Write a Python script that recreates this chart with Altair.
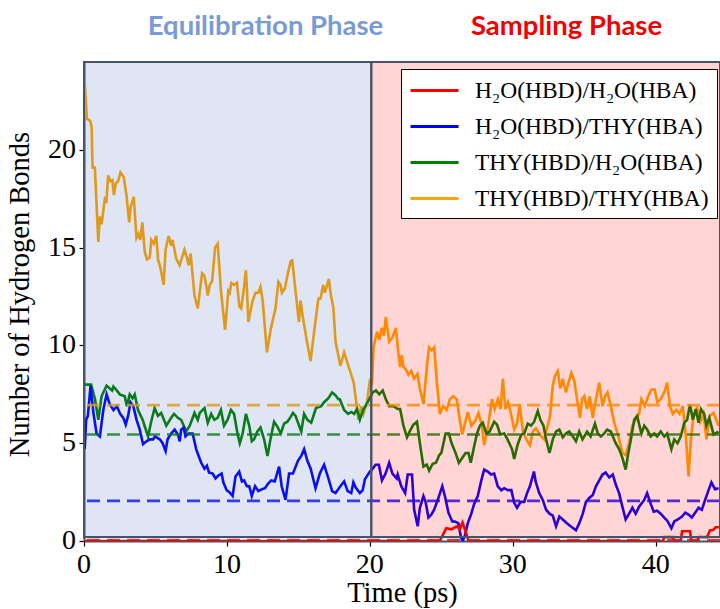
import altair as alt
import pandas as pd

series_names = ["H₂O(HBD)/H₂O(HBA)", "H₂O(HBD)/THY(HBA)", "THY(HBD)/H₂O(HBA)", "THY(HBD)/THY(HBA)"]
series_colors = ["#ff0000", "#0000ff", "#008000", "#ffa500"]
series_means = [0.05, 2.05, 5.45, 6.95]
x_ticks = [0, 10, 20, 30, 40]
y_ticks = [0, 5, 10, 15, 20]

red_t = [0, 24.9, 25.1, 25.35, 25.7, 26.1, 26.3, 26.48, 26.65, 26.9, 40.5, 40.6, 41.2, 41.3, 41.75, 41.85,
         42.4, 42.5, 42.9, 43.0, 43.6, 43.8, 44.0, 44.2, 44.5]
red_v = [0, 0, 0.3, 0.65, 0.6, 0.75, 0.6, 0.95, 0.6, 0.0, 0.0, 0.2, 0.2, 0.0, 0.0, 0.5,
         0.5, 0.0, 0.0, 0.2, 0.2, 0.55, 0.55, 0.7, 0.7]

blue_t = [0.05, 0.15, 0.27, 0.46, 0.65, 0.88, 1.11, 1.35, 1.58, 1.8, 2.06, 2.3, 2.53, 2.75, 2.92, 3.1, 3.25,
          3.45, 3.68, 3.9, 4.13, 4.37, 4.6, 4.83, 4.97, 5.3, 5.5, 5.71, 5.85, 6.1, 6.34, 6.57, 6.7, 6.8,
          6.97, 7.1, 7.3, 7.6, 7.85, 7.97, 8.2, 8.43, 8.6, 8.75, 9.0, 9.2, 9.4, 9.63, 9.75, 9.98, 10.17,
          10.4, 10.6, 10.86, 11.05, 11.2, 11.4, 11.56, 11.74, 11.97, 12.2, 12.45, 12.66, 12.9, 13.1, 13.35,
          13.65, 13.83, 14.1, 14.35, 14.62, 14.97, 15.2, 15.4, 15.63, 15.86, 16.2, 16.5, 16.8, 17.1, 17.36,
          17.6, 17.94, 18.2, 18.45, 18.7, 18.85, 19.0, 19.3, 19.5, 19.65, 20.0,
          20.15, 20.4, 20.63, 20.85, 21.1, 21.35, 21.58, 21.88, 21.95, 22.2, 22.47, 22.65, 22.95, 23.1,
          23.35, 23.5, 23.75, 23.9, 24.1, 24.3, 24.5, 24.75, 25.07, 25.25, 25.5, 25.77, 25.95, 26.2, 26.37,
          26.5, 26.66, 26.85, 27.1, 27.3, 27.55, 27.8, 28.0, 28.25, 28.48, 28.7, 28.95, 29.2, 29.4, 29.65,
          29.9, 30.1, 30.3, 30.55, 30.8, 31.0, 31.2, 31.48, 31.6, 31.85, 32.1, 32.33, 32.57, 32.8, 33.03,
          33.26, 33.5, 33.72, 34.05, 34.42, 34.65, 34.9, 35.12, 35.35, 35.6, 35.82, 36.05, 36.28, 36.5,
          36.75, 37.0, 37.2, 37.44, 37.67, 37.9, 38.14, 38.37, 38.6, 38.84, 39.2, 39.4, 39.63, 39.86, 40.1,
          40.35, 40.6, 40.8, 41.1, 41.3, 41.55, 41.84, 42.07, 42.3, 42.53, 42.76, 43.0, 43.23, 43.46, 43.7,
          43.9, 44.15, 44.4]
blue_v = [4.7, 6.2, 6.4, 7.95, 6.6, 5.5, 5.35, 6.7, 7.5, 7.0, 6.7, 6.9, 6.5, 6.3, 5.95, 6.45, 7.1,
          6.9, 6.2, 5.7, 4.95, 5.1, 5.2, 5.2, 5.35, 5.2, 5.0, 4.6, 5.2, 5.5, 5.7, 5.45, 5.1, 5.7,
          5.8, 5.35, 5.5, 5.5, 4.7, 4.45, 4.0, 3.7, 3.85, 3.5, 3.45, 3.2, 3.35, 3.45, 3.0, 2.6, 2.5,
          2.3, 3.3, 3.55, 3.05, 3.1, 2.8, 2.8, 2.3, 2.8, 2.55, 2.65, 2.7, 2.95, 3.1, 3.05,
          3.8, 2.8, 2.1, 3.45, 3.45, 4.1, 4.35, 4.7, 4.1, 3.7, 2.7, 3.45, 3.9, 3.2, 2.55,
          2.45, 2.8, 3.05, 2.55, 2.45, 3.0, 2.75, 2.45, 2.6, 3.15, 3.55,
          3.65, 3.9, 3.9, 3.1, 3.45, 4.0, 3.45, 3.2, 3.4, 2.8, 2.45, 3.4, 3.4, 1.6,
          0.75, 1.7, 2.3, 2.0, 1.2, 1.35, 1.6, 2.1, 2.8, 2.3, 1.45, 1.0, 1.0, 0.9, 0.2,
          0.0, 0.3, 0.9, 1.4, 1.9, 2.3, 3.1, 3.65, 3.55, 3.4, 3.45, 2.8, 2.6, 2.7, 2.6,
          2.6, 1.95, 1.7, 2.0, 2.0, 2.45, 2.8, 3.55, 3.05, 2.45, 2.1, 1.6, 1.4, 1.3, 0.75,
          1.25, 1.1, 0.95, 0.75, 0.55, 0.9, 1.4, 2.0, 2.2, 2.35, 2.8, 3.1, 3.4, 3.5,
          3.25, 3.4, 2.9, 2.45, 1.75, 1.1, 1.4, 1.7, 1.4, 1.75, 2.1, 2.45, 1.95, 1.5, 1.55,
          1.4, 1.2, 1.05, 0.65, 1.0, 1.1, 1.25, 1.45, 1.35, 1.2, 1.45, 1.7, 1.6, 2.1, 2.6,
          3.0, 2.65, 2.7]

green_t = [0.05, 0.5, 0.77, 1.0, 1.23, 1.58, 1.8, 1.97, 2.06, 2.3, 2.5, 2.85, 3.0, 3.2, 3.4, 3.55, 3.78,
           4.1, 4.48, 4.7, 4.94, 5.17, 5.4, 5.76, 6.1, 6.3, 6.57, 6.8, 7.15, 7.4, 7.73, 7.96, 8.1, 8.43,
           8.66, 8.9, 9.12, 9.35, 9.58, 9.8, 10.05, 10.28, 10.5, 10.75, 10.9, 11.1, 11.33, 11.56, 11.74,
           11.9, 12.13, 12.35, 12.6, 12.84, 13.07, 13.3, 13.53, 13.77, 14.0, 14.23, 14.46, 14.62, 14.8,
           15.2, 15.4, 15.63, 15.9, 16.23, 16.6, 16.8, 17.1, 17.36, 17.6, 17.8, 17.9, 18.2, 18.48, 18.7,
           18.9, 19.1, 19.3, 19.53, 19.85, 20.2,
           20.43, 20.66, 20.9, 21.12, 21.35, 21.65, 21.95, 22.12, 22.35, 22.6, 22.82, 23.05, 23.3, 23.5,
           23.75, 23.98, 24.15, 24.4, 24.63, 24.86, 25.0, 25.3, 25.53, 25.72, 26.0, 26.23, 26.46, 26.7,
           26.9, 27.06, 27.3, 27.5, 27.7, 27.9, 28.15, 28.38, 28.7, 28.9, 29.12, 29.4, 29.63, 29.95, 30.1,
           30.35, 30.6, 30.8, 31.05, 31.28, 31.5, 31.75, 31.93, 32.15, 32.33, 32.57, 32.8, 33.03, 33.26,
           33.5, 33.72, 33.95, 34.2, 34.42, 34.65, 34.88, 35.2, 35.45, 35.75, 35.95, 36.17, 36.4, 36.6,
           36.86, 37.2, 37.44, 37.67, 37.9, 38.05, 38.3, 38.5, 38.7, 39.0, 39.2, 39.4, 39.65, 39.9, 40.1,
           40.35, 40.6, 40.8, 41.1, 41.3, 41.53, 41.76, 42.0, 42.2, 42.4, 42.6, 42.8, 43.0, 43.17, 43.4,
           43.55, 43.75, 44.05, 44.4]
green_v = [8.0, 8.0, 7.25, 6.2, 7.4, 7.95, 7.8, 7.7, 7.9, 7.7, 7.5, 7.4, 6.9, 7.5, 7.3, 7.5, 6.7,
           6.2, 5.35, 6.1, 6.8, 6.4, 6.55, 5.9, 6.3, 6.5, 6.3, 6.2, 5.6, 5.9, 6.55, 6.2, 6.55, 6.8,
           6.05, 6.5, 6.2, 6.3, 6.7, 5.9, 6.2, 6.7, 6.5, 5.45, 5.0, 5.5, 6.5, 5.9, 5.1,
           5.2, 5.6, 5.8, 5.2, 4.35, 5.3, 6.1, 5.85, 5.5, 6.0, 6.1, 6.35, 6.55, 6.4,
           5.6, 6.5, 6.2, 6.05, 6.8, 6.9, 7.1, 7.3, 7.6, 7.45, 7.25, 7.25, 6.7, 6.5, 6.6,
           6.5, 6.75, 6.2, 6.7, 7.1, 7.6,
           7.7, 7.5, 7.7, 7.25, 6.9, 6.9, 6.75, 6.75, 5.9, 5.3, 5.65, 5.95, 6.1, 5.0,
           3.8, 3.9, 3.6, 3.95, 4.0, 4.4, 4.5, 5.5, 5.5, 5.0, 4.5, 4.0, 4.25, 4.5,
           4.5, 4.0, 4.85, 5.5, 5.9, 6.05, 5.5, 5.6, 6.1, 5.95, 5.45, 5.5, 5.2, 4.7, 4.2,
           4.95, 5.45, 5.5, 6.0, 5.9, 6.1, 6.65, 6.2, 5.9, 5.2, 4.5, 5.2, 5.6, 5.7,
           5.3, 5.5, 5.6, 5.35, 5.1, 5.6, 5.2, 5.6, 5.35, 6.0, 5.5, 5.35, 5.5, 5.7,
           5.6, 5.0, 4.7, 4.25, 3.65, 4.35, 5.35, 6.2, 6.4, 5.5, 5.9, 5.7, 5.35, 5.5, 5.35,
           5.6, 5.35, 5.5, 4.7, 5.2, 5.0, 5.35, 6.05, 6.2, 7.0, 6.2, 6.75, 6.05, 6.75, 6.5,
           5.9, 6.3, 5.45, 5.6]

orange_t = [0.05, 0.2, 0.42, 0.53, 0.6, 0.76, 1.0, 1.11, 1.23, 1.46, 1.57, 1.69, 1.85, 1.99, 2.09, 2.23,
            2.39, 2.55, 2.78, 2.97, 3.16, 3.27, 3.48, 3.67, 3.8, 3.94, 4.08, 4.25, 4.41, 4.6, 4.71, 4.88,
            5.06, 5.18, 5.34, 5.57, 5.71, 5.92, 6.1, 6.2, 6.45, 6.69, 7.03, 7.2, 7.32, 7.46, 7.73, 7.96,
            8.26, 8.4, 8.5, 8.66, 8.8, 8.97, 9.17, 9.35, 9.47, 9.58, 9.87, 10.1, 10.2, 10.3, 10.5, 10.7,
            10.87, 11.0, 11.2, 11.33, 11.4, 11.5, 11.8, 12.0, 12.2, 12.35, 12.5, 12.8, 13.07, 13.4, 13.6,
            13.75, 13.85, 14.05, 14.28, 14.46, 14.57, 14.77, 15.04, 15.15, 15.3, 15.6, 15.74, 15.85, 16.1,
            16.4, 16.55, 16.73, 16.85, 17.13, 17.25, 17.45, 17.6, 17.94, 18.2, 18.5, 18.87, 19.2, 19.4,
            19.55, 19.8, 20.0,
            20.15, 20.26, 20.5, 20.66, 20.83, 20.98, 21.12, 21.35, 21.58, 21.82, 22.0, 22.12, 22.24, 22.35,
            22.5, 22.7, 22.9, 23.1, 23.33, 23.5, 23.75, 24.0, 24.14, 24.33, 24.5, 24.67, 24.9, 25.13, 25.37,
            25.6, 25.85, 26.08, 26.25, 26.46, 26.65, 26.85, 27.1, 27.38, 27.6, 27.83, 28.0, 28.28, 28.55,
            28.73, 28.96, 29.15, 29.3, 29.48, 29.66, 29.85, 30.1, 30.3, 30.48, 30.71, 30.94, 31.2, 31.4,
            31.62, 32.0, 32.2, 32.6, 32.8, 32.96, 33.15, 33.33, 33.5, 33.72, 33.9, 34.1, 34.3, 34.5, 34.7,
            34.85, 35.0, 35.2, 35.38, 35.6, 35.82, 36.05, 36.28, 36.45, 36.63, 36.86, 37.1, 37.37, 37.67,
            37.9, 38.14, 38.37, 38.6, 38.84, 39.0, 39.24, 39.47, 39.7, 39.93, 40.12, 40.35, 40.6, 40.8,
            41.0, 41.2, 41.44, 41.67, 41.9, 42.13, 42.3, 42.46, 42.65, 42.9, 43.12, 43.35, 43.55, 43.78,
            44.05, 44.4]
orange_v = [23.5, 21.6, 21.5, 21.2, 19.1, 19.1, 15.3, 16.6, 16.2, 17.5, 17.4, 18.7, 18.4, 18.45, 17.7, 18.3,
            18.4, 18.85, 18.6, 17.7, 16.3, 17.1, 17.6, 15.5, 15.7, 15.4, 16.3, 14.8, 14.4, 14.5, 15.4, 15.2,
            15.6, 14.4, 14.0, 13.1, 14.9, 15.6, 15.1, 15.4, 14.45, 14.1, 14.9, 14.5, 14.1, 14.7, 12.55, 11.9,
            13.7, 13.6, 13.3, 12.55, 13.1, 13.3, 15.0, 15.2, 14.0, 12.8, 10.8, 12.8, 12.7, 13.2, 13.1, 13.2,
            12.0, 11.9, 13.0, 13.85, 12.9, 11.2, 12.3, 12.7, 12.7, 13.0, 12.3, 9.65, 10.85, 11.9, 13.25,
            13.1, 12.7, 12.9, 13.75, 14.3, 14.35, 13.0, 11.2, 12.3, 11.5, 10.2, 9.65, 9.2, 10.7,
            12.4, 12.4, 13.1, 12.7, 13.4, 12.7, 11.9, 10.2, 8.96, 9.65, 8.96, 8.1, 6.2, 6.9,
            6.5, 7.1, 8.2,
            8.1, 9.9, 10.7, 10.3, 10.9, 10.5, 11.45, 10.2, 10.4, 10.9, 9.6, 8.9, 9.5, 8.9,
            8.8, 8.5, 8.7, 8.3, 8.55, 7.8, 7.0, 9.0, 9.9, 9.75, 9.9, 8.3, 6.5, 6.9, 6.7,
            7.25, 7.4, 7.25, 6.4, 5.45, 6.0, 6.6, 5.9, 6.15, 6.55, 5.95, 4.9, 5.9, 7.25,
            6.75, 7.25, 6.75, 8.3, 6.75, 7.1, 6.6, 5.7, 6.0, 7.0, 5.6, 5.2, 4.9, 5.6,
            5.75, 5.35, 5.2, 6.35, 7.95, 8.45, 8.7, 7.8, 8.3, 7.6, 8.1, 8.6, 8.2, 7.25, 6.3,
            7.25, 7.4, 6.75, 7.4, 6.3, 7.25, 8.1, 6.9, 7.4, 7.6, 6.9, 6.05, 5.4, 4.5,
            4.4, 5.0, 5.9, 6.2, 6.5, 7.25, 6.9, 7.4, 7.75, 7.75, 7.1, 7.25, 7.6, 8.1,
            6.9, 6.5, 6.7, 6.5, 6.9, 5.2, 3.3, 5.2, 6.4, 6.8, 6.1, 6.5, 5.2, 6.4,
            6.55, 5.9]

phase_names = ["Equilibration", "Sampling"]
phase_start = [0, 20.1]
phase_end = [20.1, 44.5]
phase_low = [0.2, 0.2]
phase_high = [24.5, 24.5]

frames = []
for name, ts, vs in [(series_names[3], orange_t, orange_v), (series_names[2], green_t, green_v),
                     (series_names[1], blue_t, blue_v), (series_names[0], red_t, red_v)]:
    frames.append(pd.DataFrame({"t": ts, "v": vs, "series": name}))
lines_df = pd.concat(frames, ignore_index=True)
means_df = pd.DataFrame({"series": series_names, "mean": series_means})
phase_df = pd.DataFrame({"phase": phase_names, "x0": phase_start, "x1": phase_end,
                         "y0": phase_low, "y1": phase_high})
xtick_df = pd.DataFrame({"xt": x_ticks, "label": [str(v) for v in x_ticks]})
ytick_df = pd.DataFrame({"yt": y_ticks, "label": [str(v) for v in y_ticks]})

SERIF = "Liberation Serif"
xscale = alt.Scale(domain=[0, 44.5], nice=False, zero=False)
yscale = alt.Scale(domain=[0, 24.5], nice=False)

lines = alt.Chart(lines_df).mark_line(strokeWidth=2.6, clip=True).encode(
    x=alt.X("t:Q", scale=xscale, title="Time (ps)",
            axis=alt.Axis(values=x_ticks, grid=False, labels=False, titleFont=SERIF, titleFontSize=28.5,
                          titleY=37, titleBaseline="top")),
    y=alt.Y("v:Q", scale=yscale, title="Number of Hydrogen Bonds",
            axis=alt.Axis(values=y_ticks, grid=False, labels=False, titleFont=SERIF, titleFontSize=28.5,
                          titleY=232, titleX=-50, titleAngle=270, titleBaseline="bottom")),
    color=alt.Color("series:N", scale=alt.Scale(domain=series_names, range=series_colors),
                    legend=alt.Legend(title=None, orient="none", legendX=317, legendY=7,
                                      symbolType="M-1,0H3", symbolSize=576, symbolStrokeWidth=3,
                                      labelFont=SERIF, labelFontSize=23.5, labelColor="black",
                                      labelLimit=400, labelOffset=39, rowPadding=11, padding=8,
                                      fillColor="white", strokeColor="black")),
    detail="series:N",
)

means = alt.Chart(means_df).mark_rule(strokeWidth=2.6, strokeDash=[13, 7], opacity=0.8, clip=True).encode(
    y=alt.Y("mean:Q", scale=yscale),
    stroke=alt.Stroke("series:N", scale=alt.Scale(domain=series_names, range=series_colors), legend=None),
)

shade = alt.Chart(phase_df).mark_rect(fillOpacity=0.165, stroke="#44546a", strokeWidth=2, strokeOpacity=1).encode(
    x=alt.X("x0:Q", scale=xscale),
    x2="x1:Q",
    y=alt.Y("y0:Q", scale=yscale),
    y2="y1:Q",
    fill=alt.Fill("phase:N", scale=alt.Scale(domain=phase_names, range=["#3d62b0", "#ff0000"]), legend=None),
)

xlabels = alt.Chart(xtick_df).mark_text(font=SERIF, fontSize=28, color="black", baseline="top", align="center").encode(
    x=alt.X("xt:Q", scale=xscale), y=alt.value(489), text="label:N")

ylabels = alt.Chart(ytick_df).mark_text(font=SERIF, fontSize=28, color="black", baseline="middle", align="right").encode(
    y=alt.Y("yt:Q", scale=yscale), x=alt.value(-8), text="label:N")

title_eq = alt.Chart(pd.DataFrame({"label": ["Equilibration Phase"]})).mark_text(
    font="Lato", fontWeight="bold", fontSize=27.5, color="#7a9ad4", baseline="middle", align="center"
).encode(text="label:N", x=alt.value(181.5), y=alt.value(-35))

title_sp = alt.Chart(pd.DataFrame({"label": ["Sampling Phase"]})).mark_text(
    font="Lato", fontWeight="bold", fontSize=27.5, color="#f20000", baseline="middle", align="center"
).encode(text="label:N", x=alt.value(482.5), y=alt.value(-35))

chart = alt.layer(lines, means, shade, xlabels, ylabels, title_eq, title_sp).properties(
    width=636, height=479,
    autosize=alt.AutoSizeParams(type="none"),
    padding={"left": 84, "top": 62, "right": 0, "bottom": 68},
    background="white",
).configure_view(stroke=None).configure_axis(
    titleFontWeight="normal", titleColor="black",
    tickColor="black", tickSize=5, tickWidth=1.2,
    domainColor="#44546a", domainWidth=2,
)

chart.save("out.html", embed_options={"renderer": "svg", "actions": False})
